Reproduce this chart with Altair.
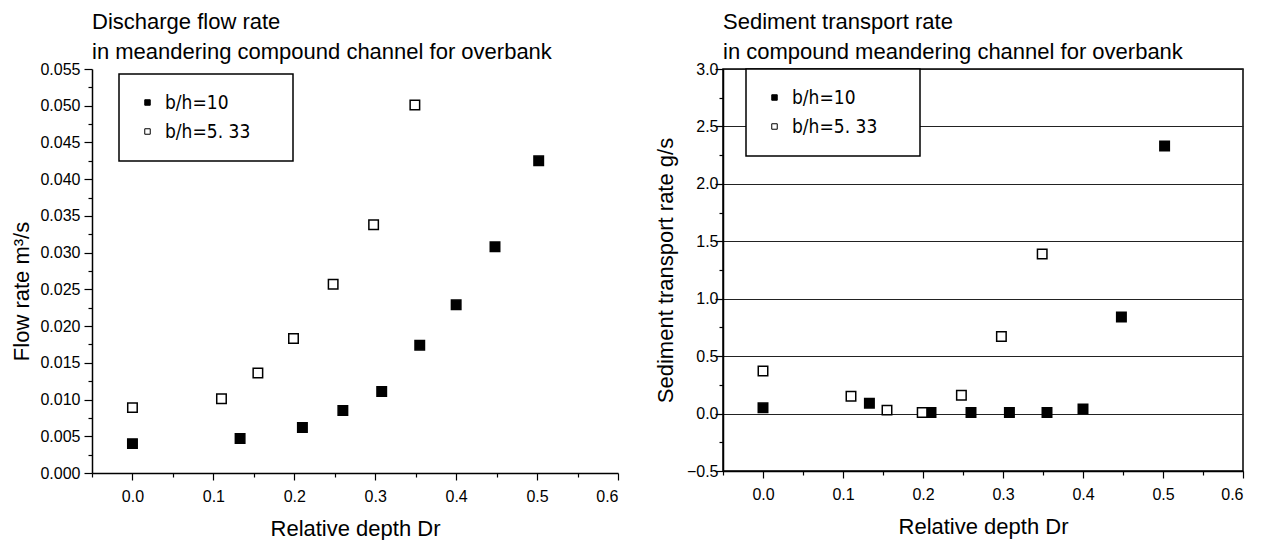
import altair as alt
import pandas as pd

# ---- data ----
SERIES = ["b/h=10", "b/h=5. 33"]

dr_10 = [0.0, 0.133, 0.21, 0.26, 0.308, 0.355, 0.40, 0.448, 0.502]
flow_10 = [0.0040, 0.0047, 0.0062, 0.0085, 0.0111, 0.0174, 0.0229, 0.0308, 0.0425]
sed_10 = [0.05, 0.09, 0.01, 0.01, 0.01, 0.01, 0.04, 0.84, 2.33]

dr_533 = [0.0, 0.11, 0.155, 0.199, 0.248, 0.298, 0.349]
flow_533 = [0.0089, 0.0101, 0.0136, 0.0183, 0.0257, 0.0338, 0.0501]
sed_533 = [0.37, 0.15, 0.03, 0.01, 0.16, 0.67, 1.39]

X_TICKS = [-0.05, 0.0, 0.05, 0.1, 0.15, 0.2, 0.25, 0.3, 0.35, 0.4, 0.45, 0.5, 0.55, 0.6]
FLOW_TICKS = [0.0, 0.0025, 0.005, 0.0075, 0.01, 0.0125, 0.015, 0.0175, 0.02, 0.0225,
              0.025, 0.0275, 0.03, 0.0325, 0.035, 0.0375, 0.04, 0.0425, 0.045, 0.0475,
              0.05, 0.0525, 0.055]
SED_TICKS = [-0.5, -0.25, 0.0, 0.25, 0.5, 0.75, 1.0, 1.25, 1.5, 1.75, 2.0, 2.25, 2.5,
             2.75, 3.0]

df = pd.DataFrame({
    "dr": dr_10 + dr_533,
    "flow": flow_10 + flow_533,
    "sed": sed_10 + sed_533,
    "series": [SERIES[0]] * len(dr_10) + [SERIES[1]] * len(dr_533),
})

FONT = "Liberation Sans"
LEGEND_FONT = "DejaVu Sans Condensed, Liberation Sans Narrow, DejaVu Sans"

x_major = "round(datum.value*100) % 10 === 0"
flow_major = "round(datum.value*10000) % 50 === 0"
sed_major = "round(datum.value*100) % 50 === 0"


def fill_enc(lx, ly):
    return alt.Fill(
        "series:N",
        scale=alt.Scale(domain=SERIES, range=["black", "white"]),
        sort=SERIES,
        legend=alt.Legend(
            orient="none", legendX=lx, legendY=ly, direction="vertical",
            title=None, fillColor="white", strokeColor="black", padding=19,
            symbolType="square", symbolSize=30, symbolStrokeColor="black",
            symbolStrokeWidth=1, symbolOffset=0, labelOffset=8, rowPadding=9,
            labelFont=LEGEND_FONT, labelFontSize=19, labelColor="black",
            labelExpr="datum.label + '  \u2800'",
        ),
    )


def x_enc():
    return alt.X(
        "dr:Q",
        scale=alt.Scale(domain=[-0.05, 0.6], nice=False, zero=False),
        axis=alt.Axis(
            title="Relative depth Dr", values=X_TICKS,
            labelExpr=f"{x_major} ? format(datum.value, '.1f') : ''",
            tickSize={"condition": {"test": x_major, "value": 7}, "value": 4},
            grid=False, labelPadding=8, titlePadding=14,
        ),
    )


left = alt.Chart(
    df,
    title=alt.TitleParams(
        text=["Discharge flow rate", "in meandering compound channel for overbank"],
        anchor="start", frame="group", offset=-3,
    ),
).mark_point(shape="square", filled=True, size=90, stroke="black",
             strokeWidth=1.5, opacity=1).encode(
    x=x_enc(),
    y=alt.Y(
        "flow:Q",
        scale=alt.Scale(domain=[0, 0.055], nice=False),
        axis=alt.Axis(
            title="Flow rate m³/s", values=FLOW_TICKS,
            labelExpr=f"{flow_major} ? format(datum.value, '.3f') : ''",
            tickSize={"condition": {"test": flow_major, "value": 8}, "value": 4},
            grid=False, labelPadding=4, titlePadding=6, titleY=222,
        ),
    ),
    fill=fill_enc(27, 5),
).properties(width=526, height=404)

right = alt.Chart(
    df,
    title=alt.TitleParams(
        text=["Sediment transport rate", "in compound meandering channel for overbank"],
        anchor="start", frame="group", offset=-3,
    ),
    view=alt.ViewBackground(stroke="black", strokeWidth=1.5),
).mark_point(shape="square", filled=True, size=90, stroke="black",
             strokeWidth=1.5, opacity=1).encode(
    x=x_enc(),
    y=alt.Y(
        "sed:Q",
        scale=alt.Scale(domain=[-0.5, 3.0], nice=False, zero=False),
        axis=alt.Axis(
            title="Sediment transport rate g/s", values=SED_TICKS,
            labelExpr=f"{sed_major} ? format(datum.value, '.1f') : ''",
            tickSize={"condition": {"test": sed_major, "value": 8}, "value": 4},
            grid=True, gridColor="#222222", gridWidth=1,
            gridOpacity={"condition": {"test": sed_major, "value": 1}, "value": 0},
            labelPadding=-3, titlePadding=9,
        ),
    ),
    fill=fill_enc(23, 0),
).properties(width=520, height=402)

chart = alt.hconcat(left, right, spacing=105, bounds="flush").resolve_scale(
    fill="independent"
).resolve_legend(fill="independent").properties(
    padding={"left": 10, "top": 10, "right": 0, "bottom": 0},
    background="white",
).configure_view(stroke="transparent").configure_axis(
    domainColor="black", domainWidth=1.5, tickColor="black", tickWidth=1.2,
    labelFont=FONT, labelFontSize=16, labelColor="black",
    titleFont=FONT, titleFontSize=22, titleFontWeight="normal", titleColor="black",
).configure_title(
    font=FONT, fontSize=22, fontWeight="normal", color="black", lineHeight=30,
).configure_legend(strokeWidth=1.5)

chart.save("out.html", embed_options={"renderer": "svg", "actions": False})
